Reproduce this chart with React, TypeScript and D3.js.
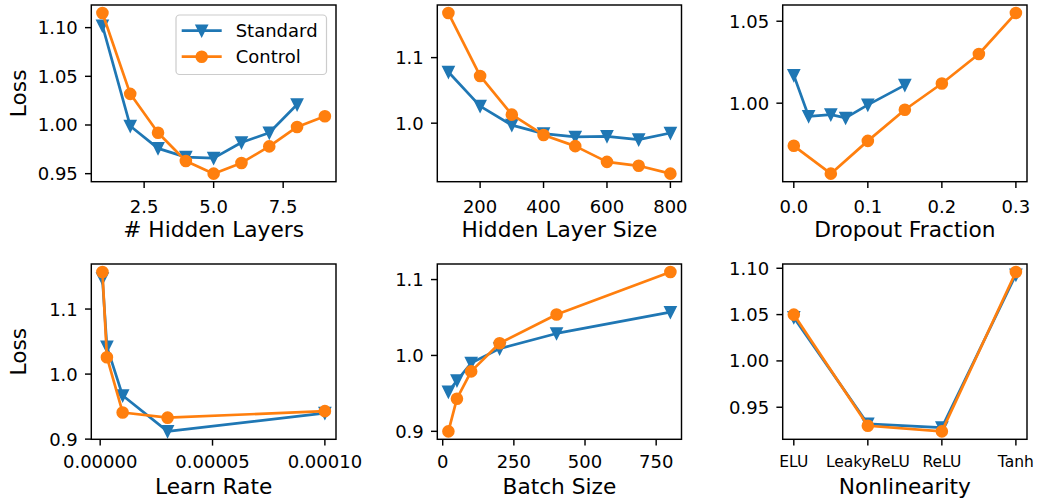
import React from "react";
import * as d3 from "d3";

// ---------- data ----------
const hiddenLayersStd = [1, 2, 3, 4, 5, 6, 7, 8];
const hiddenLayersCtl = [1, 2, 3, 4, 5, 6, 7, 8, 9];
const hlStandard = [1.102, 0.999, 0.976, 0.967, 0.966, 0.982, 0.992, 1.021];
const hlControl = [1.115, 1.032, 0.992, 0.963, 0.95, 0.961, 0.978, 0.998, 1.009];

const layerSizes = [100, 200, 300, 400, 500, 600, 700, 800];
const lsStandard = [1.078, 1.026, 0.997, 0.984, 0.979, 0.98, 0.975, 0.985];
const lsControl = [1.168, 1.072, 1.013, 0.982, 0.965, 0.941, 0.935, 0.923];

const dropoutStd = [0, 0.02, 0.05, 0.07, 0.1, 0.15];
const dropoutCtl = [0, 0.05, 0.1, 0.15, 0.2, 0.25, 0.3];
const doStandard = [1.017, 0.992, 0.993, 0.991, 0.999, 1.011];
const doControl = [0.974, 0.957, 0.977, 0.996, 1.012, 1.03, 1.055];

const learnRates = [1e-6, 3e-6, 1e-5, 3e-5, 1e-4];
const lrStandard = [1.147, 1.042, 0.967, 0.912, 0.94];
const lrControl = [1.157, 1.026, 0.941, 0.933, 0.943];

const batchSizes = [20, 50, 100, 200, 400, 800];
const bsStandard = [0.952, 0.967, 0.99, 1.009, 1.029, 1.057];
const bsControl = [0.9, 0.943, 0.979, 1.016, 1.054, 1.11];

const nonlinearities = ["ELU", "LeakyReLU", "ReLU", "Tanh"];
const nlStandard = [1.047, 0.932, 0.928, 1.093];
const nlControl = [1.05, 0.93, 0.924, 1.096];

// tick labels
const hlXTicks = [2.5, 5.0, 7.5];
const hlYTicks = [0.95, 1.0, 1.05, 1.1];
const lsXTicks = [200, 400, 600, 800];
const lsYTicks = [1.0, 1.1];
const doXTicks = [0.0, 0.1, 0.2, 0.3];
const doYTicks = [1.0, 1.05];
const lrXTicks = [0, 0.00005, 0.0001];
const lrYTicks = [0.9, 1.0, 1.1];
const bsXTicks = [0, 250, 500, 750];
const bsYTicks = [0.9, 1.0, 1.1];
const nlYTicks = [0.95, 1.0, 1.05, 1.1];

const seriesNames = ["Standard", "Control"];

// ---------- style ----------
const BLUE = "#1f77b4";
const ORANGE = "#ff7f0e";
const FONT = "DejaVu Sans, sans-serif";
const TICK_FS = 18;
const CAT_FS = 15.5;
const LABEL_FS = 21.7;
const LW = 2.7;
const MS = 5.4;
const TICK_LEN = 6.3;

type Panel = {
  x0: number; x1: number; y0: number; y1: number;
  xLabel: string; yLabel?: string;
  stdX: (number | string)[]; stdY: number[];
  ctlX: (number | string)[]; ctlY: number[];
  xTicks?: number[]; xFmt?: string; yTicks: number[]; yFmt: string;
  categories?: string[];
  legend?: boolean;
  tickOff: number;
};

const COLS = [[91.3, 336], [437.3, 681.5], [782.7, 1027]];
const ROWS = [[5, 181.7], [264, 439.3]];
const TICK_OFF = [31.5, 28.5];

const panels: Panel[] = [
  { x0: COLS[0][0], x1: COLS[0][1], y0: ROWS[0][0], y1: ROWS[0][1], xLabel: "# Hidden Layers", yLabel: "Loss",
    stdX: hiddenLayersStd, stdY: hlStandard, ctlX: hiddenLayersCtl, ctlY: hlControl,
    xTicks: hlXTicks, xFmt: ".1f", yTicks: hlYTicks, yFmt: ".2f", legend: true, tickOff: TICK_OFF[0] },
  { x0: COLS[1][0], x1: COLS[1][1], y0: ROWS[0][0], y1: ROWS[0][1], xLabel: "Hidden Layer Size",
    stdX: layerSizes, stdY: lsStandard, ctlX: layerSizes, ctlY: lsControl,
    xTicks: lsXTicks, xFmt: "d", yTicks: lsYTicks, yFmt: ".1f", tickOff: TICK_OFF[0] },
  { x0: COLS[2][0], x1: COLS[2][1], y0: ROWS[0][0], y1: ROWS[0][1], xLabel: "Dropout Fraction",
    stdX: dropoutStd, stdY: doStandard, ctlX: dropoutCtl, ctlY: doControl,
    xTicks: doXTicks, xFmt: ".1f", yTicks: doYTicks, yFmt: ".2f", tickOff: TICK_OFF[0] },
  { x0: COLS[0][0], x1: COLS[0][1], y0: ROWS[1][0], y1: ROWS[1][1], xLabel: "Learn Rate", yLabel: "Loss",
    stdX: learnRates, stdY: lrStandard, ctlX: learnRates, ctlY: lrControl,
    xTicks: lrXTicks, xFmt: ".5f", yTicks: lrYTicks, yFmt: ".1f", tickOff: TICK_OFF[1] },
  { x0: COLS[1][0], x1: COLS[1][1], y0: ROWS[1][0], y1: ROWS[1][1], xLabel: "Batch Size",
    stdX: batchSizes, stdY: bsStandard, ctlX: batchSizes, ctlY: bsControl,
    xTicks: bsXTicks, xFmt: "d", yTicks: bsYTicks, yFmt: ".1f", tickOff: TICK_OFF[1] },
  { x0: COLS[2][0], x1: COLS[2][1], y0: ROWS[1][0], y1: ROWS[1][1], xLabel: "Nonlinearity",
    stdX: nonlinearities, stdY: nlStandard, ctlX: nonlinearities, ctlY: nlControl,
    yTicks: nlYTicks, yFmt: ".2f", categories: nonlinearities, tickOff: TICK_OFF[1] },
];

function pad(ext: [number, number]): [number, number] {
  const m = (ext[1] - ext[0]) * 0.05;
  return [ext[0] - m, ext[1] + m];
}

function triPath(cx: number, cy: number, s: number) {
  return `M${cx},${cy + s}L${cx - s},${cy - s}L${cx + s},${cy - s}Z`;
}

function Marker({ kind, cx, cy, color }: { kind: string; cx: number; cy: number; color: string }) {
  if (kind === "v") return <path d={triPath(cx, cy, MS)} fill={color} stroke={color} strokeWidth={1.8} strokeLinejoin="miter" />;
  return <circle cx={cx} cy={cy} r={MS} fill={color} stroke={color} strokeWidth={1.8} />;
}

function PanelView({ p }: { p: Panel }) {
  const isCat = !!p.categories;
  const xNum = (v: number | string) => (isCat ? p.categories!.indexOf(v as string) : (v as number));
  const allX = [...p.stdX, ...p.ctlX].map(xNum);
  const allY = [...p.stdY, ...p.ctlY];
  const x = d3.scaleLinear().domain(pad(d3.extent(allX) as [number, number])).range([p.x0, p.x1]);
  const y = d3.scaleLinear().domain(pad(d3.extent(allY) as [number, number])).range([p.y1, p.y0]);
  const line = d3.line<[number, number]>().x((d) => x(d[0])).y((d) => y(d[1]));
  const stdPts: [number, number][] = p.stdX.map((v, i) => [xNum(v), p.stdY[i]]);
  const ctlPts: [number, number][] = p.ctlX.map((v, i) => [xNum(v), p.ctlY[i]]);
  const xTickVals: { v: number; label: string }[] = isCat
    ? p.categories!.map((c, i) => ({ v: i, label: c }))
    : p.xTicks!.map((t) => ({ v: t, label: d3.format(p.xFmt!)(t) }));
  const yf = d3.format(p.yFmt);
  const xfs = isCat ? CAT_FS : TICK_FS;
  return (
    <g>
      <g>
        <path d={line(stdPts)!} fill="none" stroke={BLUE} strokeWidth={LW} strokeLinejoin="round" />
        {stdPts.map((d, i) => <Marker key={"s" + i} kind="v" cx={x(d[0])} cy={y(d[1])} color={BLUE} />)}
        <path d={line(ctlPts)!} fill="none" stroke={ORANGE} strokeWidth={LW} strokeLinejoin="round" />
        {ctlPts.map((d, i) => <Marker key={"c" + i} kind="o" cx={x(d[0])} cy={y(d[1])} color={ORANGE} />)}
      </g>
      <rect x={p.x0} y={p.y0} width={p.x1 - p.x0} height={p.y1 - p.y0} fill="none" stroke="#000" strokeWidth={1.44} />
      {xTickVals.map((t, i) => (
        <g key={"xt" + i}>
          <line x1={x(t.v)} x2={x(t.v)} y1={p.y1} y2={p.y1 + TICK_LEN} stroke="#000" strokeWidth={1.44} />
          <text x={x(t.v)} y={p.y1 + p.tickOff - (isCat ? 1 : 0)} textAnchor="middle" fontSize={xfs} fontFamily={FONT} fill="#000">{t.label}</text>
        </g>
      ))}
      {p.yTicks.map((t, i) => (
        <g key={"yt" + i}>
          <line x1={p.x0} x2={p.x0 - TICK_LEN} y1={y(t)} y2={y(t)} stroke="#000" strokeWidth={1.44} />
          <text x={p.x0 - 13.5} y={y(t)} dy="0.36em" textAnchor="end" fontSize={TICK_FS} fontFamily={FONT} fill="#000">{yf(t)}</text>
        </g>
      ))}
      <text x={(p.x0 + p.x1) / 2} y={p.y1 + 55} textAnchor="middle" fontSize={LABEL_FS} fontFamily={FONT} fill="#000">{p.xLabel}</text>
      {p.yLabel && (
        <text transform={`translate(26,${(p.y0 + p.y1) / 2}) rotate(-90)`} textAnchor="middle" fontSize={LABEL_FS} fontFamily={FONT} fill="#000">{p.yLabel}</text>
      )}
      {p.legend && (
        <g>
          <rect x={176} y={15} width={150.5} height={59.5} rx={3.6} fill="#fff" fillOpacity={0.8} stroke="#cccccc" strokeWidth={1.2} />
          {seriesNames.map((name, i) => {
            const cy = 30.7 + i * 26;
            const color = i === 0 ? BLUE : ORANGE;
            return (
              <g key={name}>
                <line x1={181.7} x2={221.7} y1={cy} y2={cy} stroke={color} strokeWidth={LW} />
                <Marker kind={i === 0 ? "v" : "o"} cx={201.7} cy={cy} color={color} />
                <text x={235.7} y={cy + 6.3} fontSize={TICK_FS} fontFamily={FONT} fill="#000">{name}</text>
              </g>
            );
          })}
        </g>
      )}
    </g>
  );
}

export default function App() {
  return (
    <svg width={1039} height={502} style={{ position: "absolute", left: 0, top: 0, background: "#fff" }}>
      <rect x={0} y={0} width={1039} height={502} fill="#fff" />
      {panels.map((p, i) => <PanelView key={i} p={p} />)}
    </svg>
  );
}
